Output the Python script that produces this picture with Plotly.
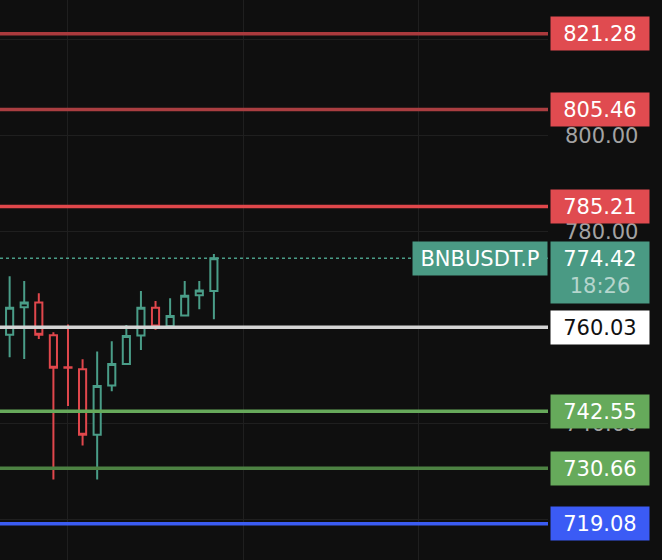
import plotly.graph_objects as go

# ---- data ----
idx = list(range(15))
opens  = [758.5, 764.2, 765.2, 758.4, 751.7, 751.3, 737.6, 747.9, 752.4, 758.3, 764.1, 760.25, 762.5, 766.7, 767.6]
highs  = [770.7, 769.7, 767.15, 759.0, 760.6, 753.35, 755.0, 757.1, 760.5, 767.6, 765.5, 766.1, 769.7, 769.7, 775.3]
lows   = [753.8, 753.4, 757.6, 728.3, 743.6, 735.4, 728.3, 746.7, 752.4, 755.3, 759.5, 760.2, 762.5, 763.8, 761.7]
closes = [764.1, 765.2, 758.5, 751.6, 751.6, 737.6, 747.8, 752.4, 758.2, 764.1, 760.2, 762.4, 766.6, 767.7, 774.42]

level_prices = [821.28, 805.46, 785.21, 760.03, 742.55, 730.66, 719.08]
level_line_colors = ["#aa3a3d", "#aa3e41", "#e0474b", "#d4d4d4", "#67a95b", "#4d8243", "#3b5cf2"]
level_box_colors = ["#e04b50", "#e04b50", "#e04b50", "#ffffff", "#66aa5b", "#66aa5b", "#3b5bf5"]
level_text_colors = ["#ffffff", "#ffffff", "#ffffff", "#111111", "#ffffff", "#ffffff", "#ffffff"]

last_price = 774.42
countdown = "18:26"
symbol = "BNBUSDT.P"
y_ticks = [720, 740, 760, 780, 800, 820]

GREEN = "#4a9d88"
RED = "#e0474c"
BG = "#0f0f0f"
FONT = "DejaVu Sans"
FS = 21

fig = go.Figure()
fig.add_trace(go.Candlestick(
    x=idx, open=opens, high=highs, low=lows, close=closes,
    increasing=dict(line=dict(color=GREEN, width=2), fillcolor=BG),
    decreasing=dict(line=dict(color=RED, width=2), fillcolor=BG),
    whiskerwidth=0, hoverinfo="skip", showlegend=False,
))

shapes = []
for p, c in zip(level_prices, level_line_colors):
    shapes.append(dict(type="line", xref="x domain", x0=0, x1=1, yref="y", y0=p, y1=p,
                       line=dict(color=c, width=3.5), layer="above"))
shapes.append(dict(type="line", xref="x domain", x0=0, x1=1, yref="y", y0=last_price, y1=last_price,
                   line=dict(color=GREEN, width=1.5, dash="dot"), layer="above"))

ann = []
xbox = 550 / 662
for p, bc, tc in zip(level_prices, level_box_colors, level_text_colors):
    ann.append(dict(xref="paper", x=xbox, xanchor="left", yref="y", y=p, yanchor="middle",
                    text=f"{p:.2f}", showarrow=False, bgcolor=bc, width=98, height=33,
                    borderpad=0, align="center", font=dict(family=FONT, size=FS, color=tc)))
# last price box
ann.append(dict(xref="paper", x=xbox, xanchor="left", yref="y", y=last_price, yanchor="top", yshift=17,
                text=f"{last_price:.2f}<br><span style='color:rgba(255,255,255,0.6)'>{countdown}</span>",
                showarrow=False, bgcolor="#4a9a84", width=98, height=61, borderpad=0, align="center",
                font=dict(family=FONT, size=FS, color="#ffffff")))
# symbol box
ann.append(dict(xref="x domain", x=1, xanchor="right", yref="y", y=last_price, yanchor="middle",
                text=symbol, showarrow=False, bgcolor="#4a9a84", width=134, height=33, borderpad=0,
                align="center", font=dict(family=FONT, size=FS, color="#ffffff")))

fig.update_layout(
    width=662, height=560, margin=dict(l=0, r=0, t=0, b=0),
    paper_bgcolor=BG, plot_bgcolor=BG,
    shapes=shapes, annotations=ann, showlegend=False,
    xaxis=dict(domain=[0, 548 / 662], range=[-0.66, 36.9], tick0=4, dtick=12,
               showticklabels=False, showgrid=True, gridcolor="#1f1f1f", gridwidth=1,
               zeroline=False, rangeslider=dict(visible=False), showline=False, fixedrange=True),
    yaxis=dict(side="right", range=[711.5, 828.3], tickvals=y_ticks,
               ticktext=[f"{v:.2f}" for v in y_ticks], showgrid=True, gridcolor="#1f1f1f",
               gridwidth=1, zeroline=False, ticks="", ticklabelstandoff=16,
               tickfont=dict(family=FONT, size=FS, color="#a3a3a3"), showline=False),
)

fig.write_html("out.html", config={"displayModeBar": False},
               post_script="document.body.style.margin='0';document.body.style.background='#0f0f0f';")
